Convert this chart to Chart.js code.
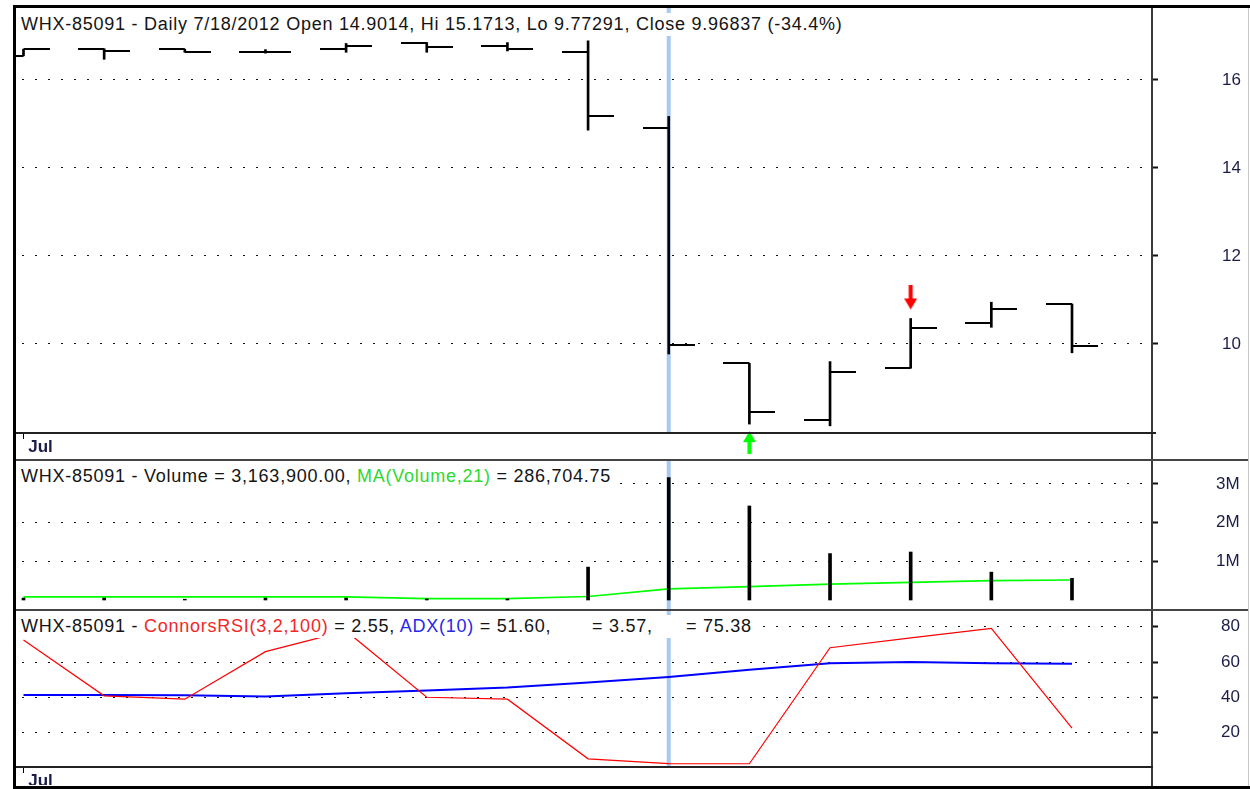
<!DOCTYPE html>
<html>
<head>
<meta charset="utf-8">
<title>WHX-85091 Daily</title>
<script src="https://cdn.jsdelivr.net/npm/chart.js@4.4.1/dist/chart.umd.min.js"></script>
<style>
  body { margin: 0; width: 1250px; height: 789px; position: relative; overflow: hidden; background: #fff;
         font-family: "Liberation Sans", Arial, sans-serif; }
  canvas { position: absolute; left: 16px; z-index: 1; }
  .line { position: absolute; z-index: 3; }
  .hdr { position: absolute; left: 16px; height: 23px; line-height: 23px; padding: 0 3px 0 5px; background: #fff;
         font-size: 18px; letter-spacing: 0.75px; color: #141414; white-space: nowrap; z-index: 2; }
  .hdr span.abs { position: absolute; top: 0; }
</style>
</head>
<body>
<!-- frame -->
<div class="line" style="left:13px;top:5px;width:1237px;height:3px;background:#000"></div>
<div class="line" style="left:13px;top:5px;width:3px;height:784px;background:#000"></div>
<div class="line" style="left:13px;top:786px;width:1237px;height:3px;background:#000"></div>
<div class="line" style="left:1248px;top:8px;width:1px;height:778px;background:#c8c8c8"></div>
<div class="line" style="left:1151px;top:8px;width:2px;height:778px;background:#3a3a3a"></div>
<div class="line" style="left:16px;top:432px;width:1140px;height:2px;background:#222"></div>
<div class="line" style="left:16px;top:459px;width:1232px;height:2px;background:#444"></div>
<div class="line" style="left:16px;top:609px;width:1232px;height:2px;background:#444"></div>
<div class="line" style="left:16px;top:766px;width:1137px;height:2px;background:#222"></div>

<canvas id="priceChart" width="1234" height="451" style="top:8px"></canvas>
<canvas id="volumeChart" width="1234" height="148" style="top:461px"></canvas>
<canvas id="oscChart" width="1234" height="174" style="top:611px"></canvas>

<div class="hdr" id="priceHdr" style="top:13px"></div>
<div class="hdr" id="volumeHdr" style="top:465px"></div>
<div class="hdr" id="oscHdr" style="top:615px;width:730px"></div>

<script>
const dates = ['7/6/2012', '7/9/2012', '7/10/2012', '7/11/2012', '7/12/2012', '7/13/2012', '7/16/2012',
    '7/17/2012', '7/18/2012', '7/19/2012', '7/20/2012', '7/23/2012', '7/24/2012', '7/25/2012'];
const opens = [16.55, 16.71, 16.70, 16.63, 16.70, 16.85, 16.78, 16.63, 14.9014, 9.56, 8.27, 9.45, 10.47, 10.91];
const highs = [16.70, 16.71, 16.70, 16.69, 16.83, 16.85, 16.85, 16.89, 15.1713, 9.56, 9.60, 10.58, 10.95, 10.91];
const lows = [16.55, 16.47, 16.63, 16.61, 16.63, 16.63, 16.66, 14.86, 9.77291, 8.18, 8.14, 9.45, 10.38, 9.80];
const closes = [16.70, 16.66, 16.63, 16.64, 16.78, 16.74, 16.70, 15.19, 9.96837, 8.45, 9.37, 10.36, 10.79, 9.95];
const volumes = [50000, 50000, 20000, 50000, 50000, 30000, 30000, 850000, 3163900, 2430000, 1200000, 1240000, 720000, 560000];
const volumeMA = [80000, 80000, 80000, 80000, 80000, 35000, 35000, 90000, 286704.75, 345000, 410000, 455000, 500000, 518000];
const connorsRsi = [72.5, 40.9, 39.0, 65.9, 77.6, 40.1, 39.0, 5.3, 2.55, 2.5, 68.1, 73.7, 79.1, 22.7];
const adx = [41.4, 41.4, 41.2, 40.5, 42.4, 43.9, 45.6, 48.4, 51.60, 55.6, 59.3, 60.0, 59.3, 59.1];
const priceTicks = [10, 12, 14, 16];
const volumeTicks = [1000000, 2000000, 3000000];
const oscTicks = [20, 40, 60, 80];
const selected = '7/18/2012';
const buySignals = ['7/19/2012'];
const sellSignals = ['7/23/2012'];

const axisInk = '#1c1c48';
Chart.defaults.font.family = '"Liberation Sans", Arial, sans-serif';
Chart.defaults.animation = false;
Chart.defaults.plugins.legend.display = false;
Chart.defaults.plugins.tooltip.enabled = false;

const months = ['Jan', 'Feb', 'Mar', 'Apr', 'May', 'Jun', 'Jul', 'Aug', 'Sep', 'Oct', 'Nov', 'Dec'];
const monthOf = d => months[+d.split('/')[0] - 1];
const monthStarts = dates.map((d, i) => i).filter(i => i === 0 || monthOf(dates[i]) !== monthOf(dates[i - 1]));
const selIndex = dates.indexOf(selected);
const pts = arr => arr.map((v, i) => ({ x: i, y: v }));

// open tick sits left of the bar, close tick right of it
function tickMark(side) {
    const c = document.createElement('canvas');
    c.width = 52; c.height = 2;
    const g = c.getContext('2d');
    g.fillStyle = '#000';
    g.fillRect(side === 'open' ? 0 : 26, 0, 26, 2);
    return c;
}

// arrow drawn off-centre so its tip stays a few px away from the bar
function arrowMark(color, dir, gap, len) {
    const c = document.createElement('canvas');
    const h = 2 * (gap + len);
    c.width = 13; c.height = h;
    const g = c.getContext('2d');
    g.fillStyle = color;
    g.beginPath();
    if (dir === 'down') {
        const tip = h / 2 - gap;
        g.rect(4.5, tip - len, 4, len - 11);
        g.moveTo(0, tip - 11); g.lineTo(13, tip - 11); g.lineTo(6.5, tip);
    } else {
        const tip = h / 2 + gap;
        g.moveTo(6.5, tip); g.lineTo(13, tip + 11); g.lineTo(0, tip + 11);
        g.rect(4.5, tip + 11, 4, len - 11);
    }
    g.fill();
    return c;
}

const highlight = {
    id: 'highlight',
    beforeDatasetsDraw(chart) {
        const { ctx, chartArea, scales: { x } } = chart;
        const px = x.getPixelForValue(selIndex);
        ctx.save();
        ctx.fillStyle = '#a9c9f0';
        ctx.fillRect(px - 2, chartArea.top, 4, chartArea.bottom - chartArea.top);
        ctx.restore();
    }
};

function xAxis(labelHeight) {
    return {
        type: 'linear', min: -0.093, max: 13.992, offset: false,
        display: labelHeight > 0,
        border: { display: false },
        grid: { drawOnChartArea: false, offset: false, tickLength: 7, tickColor: '#000', tickWidth: 1 },
        ticks: {
            autoSkip: false, maxRotation: 0, padding: -2, labelOffset: 17,
            color: axisInk, font: { size: 17, weight: 'bold' },
            callback: v => monthOf(dates[v])
        },
        afterBuildTicks: s => { s.ticks = monthStarts.map(i => ({ value: i })); },
        afterFit: s => { s.height = labelHeight; s.paddingLeft = 0; s.paddingRight = 0; }
    };
}

function yAxis(min, max, ticks, pad, fmt) {
    return {
        position: 'right', min: min, max: max,
        border: { display: false, dash: [2, 11], dashOffset: 7 },
        grid: { color: '#111', lineWidth: 1, tickLength: 6, tickColor: '#111', tickWidth: 2 },
        ticks: { color: axisInk, font: { size: 17 }, padding: pad, crossAlign: 'near', callback: fmt },
        afterBuildTicks: s => { s.ticks = ticks.map(v => ({ value: v })); },
        afterFit: s => { s.width = 98; s.paddingTop = 0; s.paddingBottom = 0; }
    };
}

const noPad = { padding: 0, autoPadding: false };

new Chart(document.getElementById('priceChart'), {
    type: 'scatter',
    data: {
        datasets: [{
            data: sellSignals.map(d => ({ x: dates.indexOf(d), y: highs[dates.indexOf(d)] })),
            pointStyle: arrowMark('#ff0000', 'down', 9, 24), pointRadius: 1
        }, {
            data: buySignals.map(d => ({ x: dates.indexOf(d), y: lows[dates.indexOf(d)] })),
            pointStyle: arrowMark('#00ff00', 'up', 7, 23), pointRadius: 1, clip: false
        }, {
            data: pts(opens), pointStyle: tickMark('open'), pointRadius: 1
        }, {
            data: pts(closes), pointStyle: tickMark('close'), pointRadius: 1
        }, {
            type: 'bar',
            data: lows.map((v, i) => ({ x: i, y: [v, highs[i]] })),
            backgroundColor: '#000', borderWidth: 0, barThickness: 2
        }]
    },
    options: {
        responsive: false,
        layout: noPad,
        scales: {
            x: xAxis(27),
            y: yAxis(8, 17.636, priceTicks, 64, v => v)
        }
    },
    plugins: [highlight]
});

new Chart(document.getElementById('volumeChart'), {
    type: 'scatter',
    data: {
        datasets: [{
            type: 'bar', data: pts(volumes),
            backgroundColor: '#000', borderWidth: 0, barThickness: 3
        }, {
            type: 'line', data: pts(volumeMA),
            borderColor: '#00ff00', borderWidth: 1.6, pointRadius: 0, tension: 0, fill: false
        }]
    },
    options: {
        responsive: false,
        layout: noPad,
        scales: {
            x: xAxis(0),
            y: yAxis(-232600, 3592000, volumeTicks, 58, v => (v / 1000000) + 'M')
        }
    },
    plugins: [highlight]
});

new Chart(document.getElementById('oscChart'), {
    type: 'scatter',
    data: {
        datasets: [{
            type: 'line', data: pts(connorsRsi),
            borderColor: '#ff0000', borderWidth: 1.2, pointRadius: 0, tension: 0, fill: false
        }, {
            type: 'line', data: pts(adx),
            borderColor: '#0000ff', borderWidth: 2, pointRadius: 0, tension: 0, fill: false
        }]
    },
    options: {
        responsive: false,
        layout: noPad,
        scales: {
            x: xAxis(19),
            y: yAxis(1.225, 88.88, oscTicks, 63, v => v)
        }
    },
    plugins: [highlight]
});

// panel headers
const money = v => v.toLocaleString('en-US', { minimumFractionDigits: 2, maximumFractionDigits: 2 });
const chg = (closes[selIndex] / closes[selIndex - 1] - 1) * 100;
document.getElementById('priceHdr').textContent =
    'WHX-85091 - Daily ' + selected + ' Open ' + opens[selIndex] + ', Hi ' + highs[selIndex] +
    ', Lo ' + lows[selIndex] + ', Close ' + closes[selIndex] + ' (' + chg.toFixed(1) + '%)';
document.getElementById('volumeHdr').innerHTML =
    'WHX-85091 - Volume = ' + money(volumes[selIndex]) + ', <span style="color:#2fd82f">MA(Volume,21)</span> = ' +
    money(volumeMA[selIndex]);
document.getElementById('oscHdr').innerHTML =
    'WHX-85091 - <span style="color:#f02828">ConnorsRSI(3,2,100)</span> = ' + connorsRsi[selIndex].toFixed(2) +
    ', <span style="color:#2828e8">ADX(10)</span> = ' + adx[selIndex].toFixed(2) + ',' +
    '<span class="abs" style="left:576px">= 3.57,</span><span class="abs" style="left:670px">= 75.38</span>';
</script>
</body>
</html>
